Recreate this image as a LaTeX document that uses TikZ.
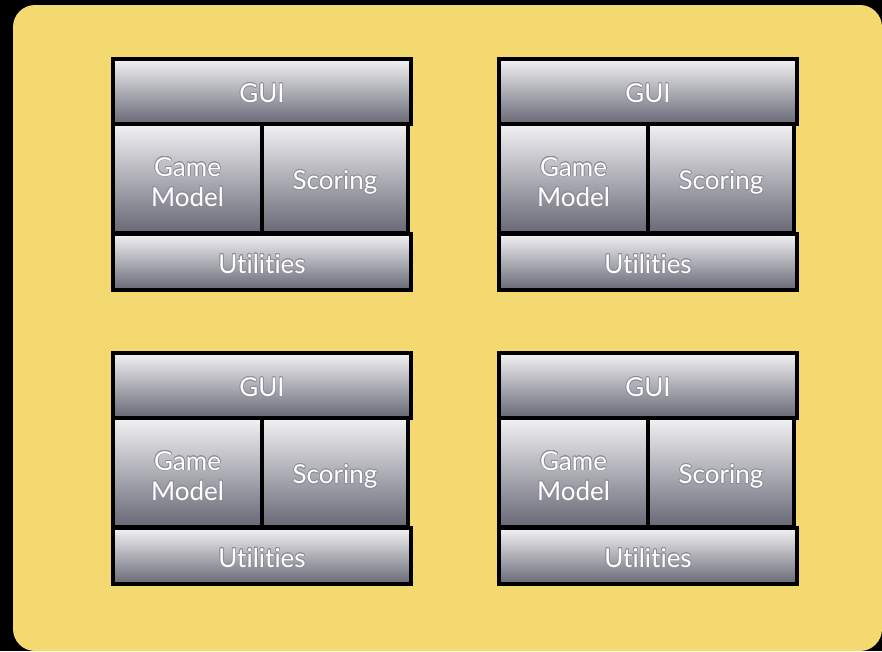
\documentclass[tikz,border=0pt]{standalone}
\usepackage{fontspec}
\setmainfont{Lato}[Ligatures=NoCommon]
\usepackage[copies]{contour}
\contourlength{0.7pt}
\contournumber{16}
\definecolor{panelyellow}{HTML}{F4D870}
\definecolor{boxtop}{HTML}{F2F2F4}
\definecolor{boxbottom}{HTML}{686876}
\definecolor{halo}{HTML}{8E8E9A}
% white caption with a soft grey halo
\newcommand{\halotext}[1]{\contour{halo}{#1}}
\tikzset{
  layer/.style={draw=black, line width=3.5pt, top color=boxtop, bottom color=boxbottom,
    inner sep=0pt, outer sep=0pt, text=white, align=center,
    font=\fontsize{26}{30}\selectfont},
  % baseline of a one-line caption sits 11pt below the cell centre
  oneline/.style={text height=22pt, text depth=0pt},
  % baseline of the last of two lines sits 27.5pt below the cell centre
  twoline/.style={text height=55pt, text depth=0pt},
}
\begin{document}
\begin{tikzpicture}[x=1pt, y=-1pt]
  % black page and the yellow rounded panel
  \fill[black] (0,0) rectangle (882,651);
  \useasboundingbox (0,0) rectangle (882,651);
  \fill[panelyellow, rounded corners=22pt] (13,5) rectangle (882,651);
  % four identical layered modules
  \foreach \ox/\oy/\i in {113/59/1, 499/59/2, 113/353/3, 499/353/4}{
    \node[layer, oneline, minimum width=298pt, minimum height=65pt]
      (gui\i) at (\ox+149, \oy+32.5) {\halotext{GUI}};
    \node[layer, twoline, minimum width=149pt, minimum height=109pt]
      (gm\i) at (\ox+74.5, \oy+119.5) {\halotext{Game}\\\halotext{Model}};
    \node[layer, oneline, minimum width=146pt, minimum height=109pt]
      (sc\i) at (\ox+222, \oy+119.5) {\halotext{Scoring}};
    \node[layer, oneline, minimum width=298pt, minimum height=56pt]
      (ut\i) at (\ox+149, \oy+203) {\halotext{Utilities}};
  }
\end{tikzpicture}
\end{document}
